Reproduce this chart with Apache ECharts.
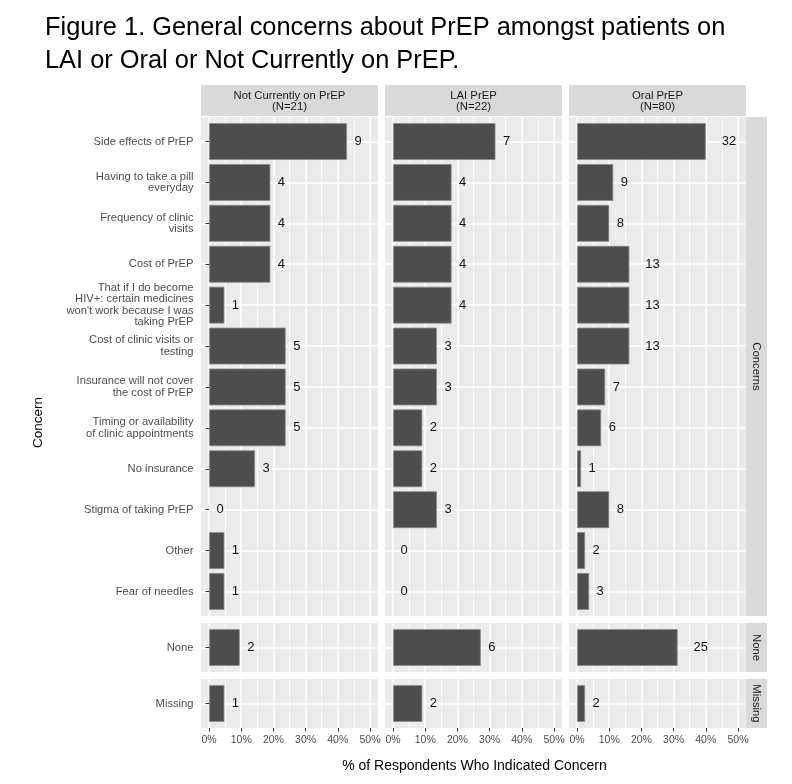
<!DOCTYPE html>
<html>
<head>
<meta charset="utf-8">
<script src="https://cdn.jsdelivr.net/npm/echarts@6/dist/echarts.min.js"></script>
<style>html,body{margin:0;padding:0;background:#fff;}#c{width:792px;height:784px;}</style>
</head>
<body>
<div id="c"></div>
<script>
// ---------------- data ----------------
const titleText = 'Figure 1. General concerns about PrEP amongst patients on\nLAI or Oral or Not Currently on PrEP.';
const xAxisTitle = '% of Respondents Who Indicated Concern';
const yAxisTitle = 'Concern';
const groups = ['Not Currently on PrEP', 'LAI PrEP', 'Oral PrEP'];
const groupN = [21, 22, 80];
const facetRows = ['Concerns', 'None', 'Missing'];
const concernLabels = [
  'Side effects of PrEP',
  'Having to take a pill\neveryday',
  'Frequency of clinic\nvisits',
  'Cost of PrEP',
  'That if I do become\nHIV+: certain medicines\nwon\'t work because I was\ntaking PrEP',
  'Cost of clinic visits or\ntesting',
  'Insurance will not cover\nthe cost of PrEP',
  'Timing or availability\nof clinic appointments',
  'No insurance',
  'Stigma of taking PrEP',
  'Other',
  'Fear of needles'
];
const notCurrentCounts = [9, 4, 4, 4, 1, 5, 5, 5, 3, 0, 1, 1];
const laiCounts        = [7, 4, 4, 4, 4, 3, 3, 2, 2, 3, 0, 0];
const oralCounts       = [32, 9, 8, 13, 13, 13, 7, 6, 1, 8, 2, 3];
const noneLabels = ['None'];
const noneCounts = [2, 6, 25];
const missingLabels = ['Missing'];
const missingCounts = [1, 2, 2];
const xTicks = [0, 10, 20, 30, 40, 50];
const xMinorTicks = [5, 15, 25, 35, 45];

// ---------------- layout / style ----------------
const FONT = '"Liberation Sans", Arial, sans-serif';
const L = {
  colX: [201, 385, 569], colW: 177,
  rowY: [117, 623, 679], rowH: [499, 49, 49],
  stripTop: 85, stripH: 31,
  rStripX: 746, rStripW: 21,
  xMin: -2.5, xMax: 52.5
};
const PANEL_BG = '#ebebeb', STRIP_BG = '#d9d9d9';

const rowCats = [concernLabels, noneLabels, missingLabels];
const rowCounts = [
  [notCurrentCounts, laiCounts, oralCounts],
  [[noneCounts[0]], [noneCounts[1]], [noneCounts[2]]],
  [[missingCounts[0]], [missingCounts[1]], [missingCounts[2]]]
];

const grid = [], xAxis = [], yAxis = [], series = [], graphic = [];

for (let r = 0; r < 3; r++) {
  const nCat = rowCats[r].length;
  const unit = L.rowH[r] / (nCat + 0.2);
  for (let c = 0; c < 3; c++) {
    // background grid (panel + vertical gridlines)
    const gb = grid.length;
    grid.push({left: L.colX[c], top: L.rowY[r], width: L.colW, height: L.rowH[r],
      show: true, backgroundColor: PANEL_BG, borderWidth: 0, containLabel: false});
    xAxis.push({gridIndex: gb, type: 'value', min: L.xMin, max: L.xMax, position: 'bottom',
      axisLine: {show: false},
      axisTick: {show: r === 2, customValues: xTicks, length: 3.5, lineStyle: {color: '#333', width: 1}},
      axisLabel: {show: r === 2, customValues: xTicks, formatter: '{value}%', margin: 6.5,
        fontSize: 10.5, fontFamily: FONT, color: '#4d4d4d'},
      splitLine: {show: true, lineStyle: {color: '#ffffff', width: 1.5}}
    });
    xAxis.push({gridIndex: gb, type: 'value', min: L.xMin, max: L.xMax, position: 'top',
      axisLine: {show: false}, axisLabel: {show: false},
      axisTick: {show: false, customValues: xMinorTicks},
      splitLine: {show: true, lineStyle: {color: '#ffffff', width: 0.75}}
    });
    yAxis.push({gridIndex: gb, type: 'value', min: 0, max: 1, show: false});

    // data grid
    const ga = grid.length;
    const padTop = 0.1 * unit;
    grid.push({left: L.colX[c], top: L.rowY[r] + padTop, width: L.colW, height: nCat * unit,
      show: false, containLabel: false});
    const xa = xAxis.length;
    xAxis.push({gridIndex: ga, type: 'value', min: L.xMin, max: L.xMax, show: false});
    const ya = yAxis.length;
    yAxis.push({gridIndex: ga, type: 'category', data: rowCats[r], inverse: true, boundaryGap: true,
      axisLine: {show: false},
      axisTick: {show: c === 0, alignWithLabel: true, length: 3.5, lineStyle: {color: '#333', width: 1}},
      axisLabel: {show: c === 0, interval: 0, fontSize: 11.2, lineHeight: 11.5, color: '#4d4d4d',
        fontFamily: FONT, margin: 7.5, align: 'right'},
      splitLine: {show: true, alignWithLabel: true, interval: 0, lineStyle: {color: '#ffffff', width: 1.5}}
    });
    const N = groupN[c];
    const counts = rowCounts[r][c];
    series.push({
      type: 'bar', xAxisIndex: xa, yAxisIndex: ya,
      barWidth: 0.9 * unit,
      itemStyle: {color: '#4d4d4d', borderColor: '#8a8a8a', borderWidth: 0.8},
      label: {show: true, position: 'right', fontSize: 13, fontFamily: FONT, color: '#111',
        formatter: p => String(p.data.count)},
      data: counts.map(v => ({value: v / N * 100, count: v,
        itemStyle: {borderWidth: v > 0 ? 0.8 : 0},
        label: {distance: String(v).length === 1 ? 7.5 : 16}}))
    });
  }
}

// top strips
for (let c = 0; c < 3; c++) {
  graphic.push({type: 'rect', shape: {x: L.colX[c], y: L.stripTop, width: L.colW, height: L.stripH},
    style: {fill: STRIP_BG}, silent: true});
  graphic.push({type: 'text', x: L.colX[c] + L.colW / 2, y: L.stripTop + L.stripH / 2 + 0.5,
    style: {text: groups[c] + '\n(N=' + groupN[c] + ')', fontSize: 11.3, lineHeight: 11, fontFamily: FONT,
      fill: '#1a1a1a', align: 'center', verticalAlign: 'middle'}, silent: true});
}
// right strips
for (let r = 0; r < 3; r++) {
  graphic.push({type: 'rect', shape: {x: L.rStripX, y: L.rowY[r], width: L.rStripW, height: L.rowH[r]},
    style: {fill: STRIP_BG}, silent: true});
  graphic.push({type: 'text', x: L.rStripX + L.rStripW / 2, y: L.rowY[r] + L.rowH[r] / 2,
    rotation: -Math.PI / 2,
    style: {text: facetRows[r], fontSize: 11.3, fontFamily: FONT, fill: '#1a1a1a',
      align: 'center', verticalAlign: 'middle'}, silent: true});
}
// axis titles
graphic.push({type: 'text', x: (L.colX[0] + L.colX[2] + L.colW) / 2 + 1, y: 766.5,
  style: {text: xAxisTitle, fontSize: 14, fontFamily: FONT, fill: '#000', align: 'center', verticalAlign: 'middle'},
  silent: true});
graphic.push({type: 'text', x: 38.5, y: (L.rowY[0] + L.rowY[2] + L.rowH[2]) / 2, rotation: Math.PI / 2,
  style: {text: yAxisTitle, fontSize: 13.5, fontFamily: FONT, fill: '#000', align: 'center', verticalAlign: 'middle'},
  silent: true});

const chart = echarts.init(document.getElementById('c'), null, {renderer: 'canvas'});
chart.setOption({
  animation: false,
  backgroundColor: '#ffffff',
  title: {text: titleText, left: 45, top: 11, padding: 0,
    textStyle: {fontSize: 25.4, lineHeight: 33.5, fontWeight: 'normal', color: '#000', fontFamily: FONT}},
  grid, xAxis, yAxis, series, graphic
});
</script>
</body>
</html>
